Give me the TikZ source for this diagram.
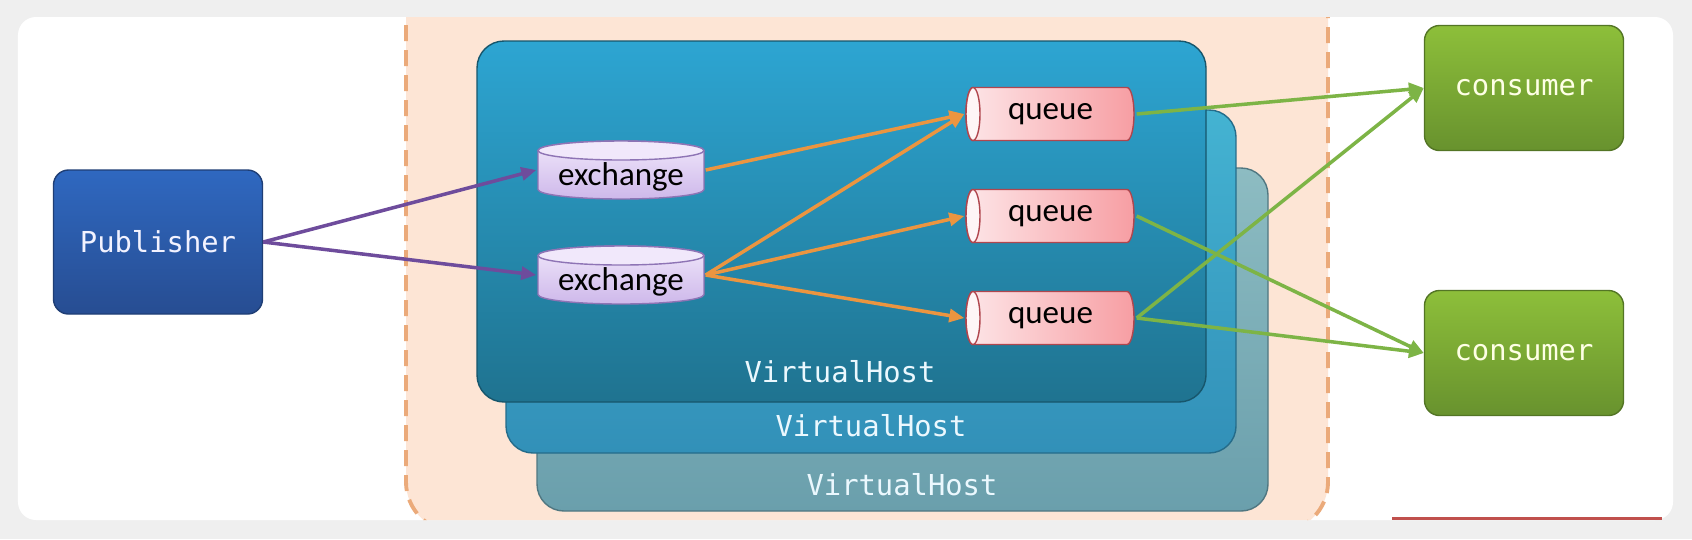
\documentclass[tikz,border=0pt]{standalone}
\usepackage{fontspec}
\setmonofont{DejaVu Sans Mono}
\newfontfamily\calfont{Carlito}
\usetikzlibrary{arrows.meta,positioning,calc}

\definecolor{pagegray}{HTML}{EFEFEF}
\definecolor{peach}{HTML}{FDE5D5}
\definecolor{peachline}{HTML}{EBAA7A}
\definecolor{pubtop}{HTML}{2F68C0}
\definecolor{pubbot}{HTML}{274D92}
\definecolor{contop}{HTML}{8DBF3A}
\definecolor{conbot}{HTML}{68922E}
\definecolor{vhAtop}{HTML}{2DA5D2}
\definecolor{vhAbot}{HTML}{1F7390}
\definecolor{vhBtop}{HTML}{44B3D2}
\definecolor{vhBbot}{HTML}{3290B8}
\definecolor{vhCtop}{HTML}{8DBCC2}
\definecolor{vhCbot}{HTML}{6A9FAC}
\definecolor{extop}{HTML}{F1E8FB}
\definecolor{exbot}{HTML}{CDB7EA}
\definecolor{exline}{HTML}{8E74B5}
\definecolor{qleft}{HTML}{FDE6E8}
\definecolor{qright}{HTML}{F79DA2}
\definecolor{qline}{HTML}{B0464E}
\definecolor{pubarrow}{HTML}{6E4C9C}
\definecolor{exarrow}{HTML}{EB9540}
\definecolor{qarrow}{HTML}{7DB446}
\definecolor{barred}{HTML}{C0504D}

\begin{document}
\begin{tikzpicture}[
  monotext/.style={font=\ttfamily\fontsize{8.2}{10}\selectfont},
  client/.style={draw=#1bot!80!black,rounded corners=0.15cm,top color=#1top,bottom color=#1bot,
    minimum width=1.99cm,minimum height=1.25cm,monotext},
  vhost/.style={draw=#1bot!75!black,line width=0.4pt,rounded corners=0.27cm,top color=#1top,bottom color=#1bot},
  vhlabel/.style={monotext,text=cyan!8},
  exch/.style={minimum width=1.68cm,minimum height=0.61cm,inner sep=0pt,text height=0.36cm,text depth=0.06cm,
    font=\calfont\fontsize{9.4}{11}\selectfont,
    path picture={
      \filldraw[draw=exline,top color=extop,bottom color=exbot] (path picture bounding box.center)
        ++(-0.83,0.195) -- ++(0,-0.39) arc[start angle=180,end angle=360,x radius=0.83,y radius=0.095]
        -- ++(0,0.39) arc[start angle=0,end angle=180,x radius=0.83,y radius=0.095] -- cycle;
      \filldraw[draw=exline,fill=extop] (path picture bounding box.center)
        ++(0,0.195) ellipse[x radius=0.83,y radius=0.095];}},
  qbox/.style={minimum width=1.71cm,minimum height=0.56cm,inner sep=0pt,
    font=\calfont\fontsize{9.4}{11}\selectfont,
    path picture={
      \filldraw[draw=qline,left color=qleft,right color=qright] (path picture bounding box.center)
        ++(-0.775,0.265) -- ++(1.54,0) arc[start angle=90,end angle=-90,x radius=0.07,y radius=0.265]
        -- ++(-1.54,0) arc[start angle=270,end angle=90,x radius=0.07,y radius=0.265] -- cycle;
      \filldraw[draw=qline,fill=qleft!40!white] (path picture bounding box.center)
        ++(-0.775,0) ellipse[x radius=0.07,y radius=0.265];}},
  arr/.style={-{Triangle[length=0.15cm,width=0.13cm]},line width=1pt,draw=#1,fill=#1}]
% page and card
\fill[pagegray] (0,0) rectangle (16.92,-5.39);
\fill[white,rounded corners=0.18cm] (0.18,-0.17) rectangle (16.73,-5.20);
\begin{scope}
  \clip[rounded corners=0.18cm] (0.18,-0.17) rectangle (16.73,-5.20);
  \filldraw[fill=peach,draw=peachline,line width=1.1pt,dash pattern=on 0.16cm off 0.09cm,rounded corners=0.5cm]
    (4.06,0.5) rectangle (13.28,-5.32);
\end{scope}
\fill[barred] (13.92,-5.17) rectangle (16.62,-5.20);

% virtual hosts, back to front
\draw[vhost=vhC] (5.37,-1.68) rectangle (12.68,-5.11);
\node[vhlabel] (vh3) at (9.02,-4.85) {VirtualHost};
\draw[vhost=vhB] (5.06,-1.10) rectangle (12.36,-4.53);
\node[vhlabel] (vh2) at (8.71,-4.26) {VirtualHost};
\draw[vhost=vhA] (4.77,-0.41) rectangle (12.06,-4.02);
\node[vhlabel] (vh1) at (8.40,-3.72) {VirtualHost};

\node[client=pub,minimum width=2.09cm,minimum height=1.44cm,text=blue!5] (pub) at (1.58,-2.42) {Publisher};
\node[client=con,text=green!5!yellow!10] (con1) at (15.24,-0.88) {consumer};
\node[client=con,text=green!5!yellow!10] (con2) at (15.24,-3.53) {consumer};

\node[exch] (ex1) at (6.21,-1.70) {exchange};
\node[exch] (ex2) at (6.21,-2.75) {exchange};
\node[qbox] (q1) at (10.505,-1.14) {queue};
\node[qbox] (q2) at (10.505,-2.16) {queue};
\node[qbox] (q3) at (10.505,-3.18) {queue};

\draw[arr=pubarrow] (pub.east) -- (ex1.west);
\draw[arr=pubarrow] (pub.east) -- (ex2.west);
\draw[arr=exarrow] (ex1.east) -- (q1.west);
\draw[arr=exarrow] (ex2.east) -- (q1.west);
\draw[arr=exarrow] (ex2.east) -- (q2.west);
\draw[arr=exarrow] (ex2.east) -- (q3.west);
\draw[arr=qarrow] (q1.east) -- (con1.west);
\draw[arr=qarrow] (q2.east) -- (con2.west);
\draw[arr=qarrow] (q3.east) -- (con1.west);
\draw[arr=qarrow] (q3.east) -- (con2.west);
\end{tikzpicture}
\end{document}
